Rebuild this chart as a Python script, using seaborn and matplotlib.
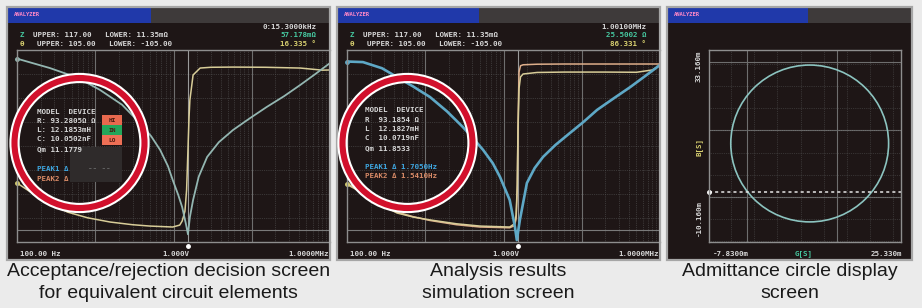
import numpy as np
import pandas as pd
import matplotlib
matplotlib.use('Agg')
import matplotlib.pyplot as plt
import seaborn as sns
from matplotlib.patches import Rectangle, Circle, Ellipse
from matplotlib.ticker import FixedLocator, LogLocator, MultipleLocator

# ---- values read off the three analyzer screens ----
# screen 1: |Z| trace and phase trace, in screen % of the graph height, vs frequency [Hz]
freq_z1 = [100, 263, 600, 1150, 2200, 3720, 5200, 6760, 8500, 9770, 11500, 12900, 14400,
           15300, 16200, 17800, 21000, 26900, 38000, 57500, 95000, 155000, 260000, 417000, 650000, 1000000]
z1 = [95.5, 90.6, 85.5, 79.2, 71.5, 62.0, 55.0, 47.9, 39.5, 32.3, 24.5, 18.2, 9.5,
      4.0, 13.0, 21.9, 34.0, 44.3, 52.0, 58.3, 64.5, 70.3, 76.0, 81.8, 87.5, 93.2]
freq_p1 = [100, 170, 290, 440, 800, 1550, 3000, 5000, 9770, 12000, 12900, 14000, 14700,
           15300, 15800, 16200, 17800, 21900, 30000, 57500, 150000, 417000, 800000, 1000000]
p1 = [30.7, 24.5, 19.5, 15.6, 12.6, 10.4, 9.0, 8.3, 7.8, 8.8, 10.9, 16.0, 27.0,
      47.9, 65.0, 74.0, 87.0, 90.6, 91.0, 91.1, 91.0, 90.6, 89.5, 89.6]

# screen 2: measured |Z|, measured phase and simulated phase
freq_z2 = [100, 160, 280, 436, 700, 1150, 1900, 3020, 4200, 5500, 7300, 9020, 12000, 14000,
           14800, 16200, 19900, 25000, 32000, 46000, 70800, 105000, 157000, 260000, 417000, 650000, 1000000]
z2 = [94.0, 93.7, 90.5, 85.9, 81.0, 75.5, 68.0, 59.9, 53.5, 47.9, 41.0, 33.9, 21.9, 7.8,
      1.0, 11.5, 30.7, 38.5, 44.3, 50.5, 56.8, 62.5, 68.8, 75.0, 80.7, 86.5, 92.2]
freq_p2 = [100, 196, 300, 436, 700, 1150, 2500, 5000, 12000, 13800, 14500, 15000, 15300,
           15800, 16500, 17800, 26900, 60000, 200000, 500000, 800000, 1000000]
p2_meas = [30.0, 23.4, 18.5, 15.1, 13.0, 11.5, 9.5, 8.3, 7.8, 9.5, 14.0, 30.0, 56.8,
           80.0, 86.0, 87.5, 88.3, 88.5, 88.5, 88.4, 89.6, 92.2]
p2_sim = [30.5, 24.0, 19.0, 15.6, 13.2, 11.2, 9.0, 7.8, 7.4, 8.5, 12.0, 28.0, 60.0,
          88.5, 91.8, 92.3, 92.6, 92.7, 92.7, 92.7, 92.7, 92.7]

cursor_f = 15300  # marker frequency on screens 1 and 2

# screen 3: admittance circle (G, B in siemens)
g_lim = (-7.83e-3, 25.33e-3)
b_lim = (-10.16e-3, 33.16e-3)
circle_g, circle_b = 9.56e-3, 12.07e-3
circle_w, circle_h = 27.26e-3, 35.39e-3
b_marker = 1.14e-3
g_grid = [-1.26e-3, 14.31e-3]
b_grid = [-0.06e-3, 15.08e-3, 30.45e-3]

captions = [("Acceptance/rejection decision screen", "for equivalent circuit elements"),
            ("Analysis results", "simulation screen"),
            ("Admittance circle display", "screen")]

# ---- style ----
sns.set_theme(style='dark')
plt.rcParams['font.family'] = ['DejaVu Sans']

W, H = 922, 308
SCREEN = '#1e1616'
MONO = 'DejaVu Sans Mono'
CAP_FONT = ['Liberation Sans', 'DejaVu Sans']
TEAL1, TEAL2 = '#93b6b1', '#5ea8c6'
BEIGE, PINK = '#d8cd98', '#deae8a'
YELLOW, GREEN = '#d8d070', '#46c8a0'

fig = plt.figure(figsize=(W / 100, H / 100), dpi=100)
fig.patch.set_facecolor('#ebebeb')


def px_axes(x, y, w, h, z):
    return fig.add_axes([x / W, 1 - (y + h) / H, w / W, h / H], zorder=z)


bg = px_axes(0, 0, W, H, 0)
top = px_axes(0, 0, W, H, 5)
for a in (bg, top):
    a.set_xlim(0, W)
    a.set_ylim(H, 0)
    a.axis('off')

panels = [(7, 7, 323, 253, 144), (337, 7, 323, 253, 142), (667, 7, 245, 253, 141)]
for x, y, w, h, bw in panels:
    bg.add_patch(Rectangle((x, y), w, h, fc=SCREEN, ec='none'))
    bg.add_patch(Rectangle((x, y), bw, 16, fc='#2039aa', ec='none'))
    bg.add_patch(Rectangle((x + bw, y), w - bw, 16, fc='#3e3a3a', ec='none'))
    bg.text(x + 7, y + 8, 'ANALYZER', color='#ff88c8', fontsize=4, fontweight='bold',
            family=MONO, va='center')
    top.add_patch(Rectangle((x, y), w, h, fill=False, ec='#a6a6a6', lw=1.6))


def mono(x, y, s, color='#d6d6d6', ha='left', size=5.4, **kw):
    top.text(x, y, s, color=color, fontsize=size, family=MONO, fontweight='bold',
             ha=ha, va='center', **kw)


def freq_axes(x0):
    ax = px_axes(x0, 50, 313, 192, 2)
    ax.set_facecolor('none')
    ax.set_xscale('log')
    ax.xaxis.set_major_locator(FixedLocator([1e3, 1e4, 1e5]))
    ax.xaxis.set_minor_locator(LogLocator(base=10, subs=[2, 3, 4, 5, 6, 7, 8, 9]))
    ax.yaxis.set_major_locator(FixedLocator([12.5 * i for i in range(1, 8)]))
    ax.tick_params(which='both', length=0, labelbottom=False, labelleft=False)
    ax.grid(which='major', axis='x', color='#6e6e6e', lw=0.8, ls='-')
    ax.grid(which='minor', axis='x', color='#565656', lw=0.5, ls=':')
    ax.grid(which='major', axis='y', color='#565656', lw=0.5, ls=':')
    for s in ax.spines.values():
        s.set_color('#8e8e8e')
        s.set_linewidth(1)
    ax.spines['right'].set_visible(False)
    ax.axhline(6.25, color='#7a7a7a', lw=0.8)
    ax.axvline(cursor_f, color='#9a9a9a', lw=0.8)
    return ax


def finish(ax):
    ax.set_xlim(100, 1e6)
    ax.set_ylim(0, 100)
    ax.set_xlabel('')
    ax.set_ylabel('')
    ax.plot([cursor_f], [-0.02], marker='o', ms=2.5, color='white',
            transform=ax.get_xaxis_transform(), clip_on=False)


# ---- screen 1 ----
ax1 = freq_axes(17)
sns.lineplot(x=freq_p1, y=p1, ax=ax1, color=BEIGE, lw=1.1, estimator=None, sort=False)
sns.lineplot(x=freq_z1, y=z1, ax=ax1, color=TEAL1, lw=1.3, estimator=None, sort=False)
ax1.plot([freq_z1[0]], [z1[0]], 'o', ms=2.5, color=TEAL1, clip_on=False)
ax1.plot([freq_p1[0]], [p1[0]], 'o', ms=2.5, color=YELLOW, clip_on=False)
finish(ax1)

# ---- screen 2 ----
ax2 = freq_axes(347)
sns.lineplot(x=freq_p2, y=p2_sim, ax=ax2, color=PINK, lw=1.1, estimator=None, sort=False)
sns.lineplot(x=freq_p2, y=p2_meas, ax=ax2, color=BEIGE, lw=1.1, estimator=None, sort=False)
sns.lineplot(x=freq_z2, y=z2, ax=ax2, color=TEAL2, lw=1.9, estimator=None, sort=False)
ax2.plot([freq_z2[0]], [z2[0]], 'o', ms=2.5, color=TEAL2, clip_on=False)
ax2.plot([freq_p2[0]], [p2_meas[0]], 'o', ms=2.5, color=YELLOW, clip_on=False)
finish(ax2)

# ---- screen 3 ----
ax3 = px_axes(709, 50, 192, 192, 2)
ax3.set_facecolor('none')
ax3.xaxis.set_major_locator(FixedLocator(g_grid))
ax3.yaxis.set_major_locator(FixedLocator(b_grid))
ax3.xaxis.set_minor_locator(MultipleLocator(4e-3))
ax3.yaxis.set_minor_locator(MultipleLocator(5e-3))
ax3.tick_params(which='both', length=0, labelbottom=False, labelleft=False)
ax3.grid(which='major', color='#6e6e6e', lw=0.8, ls='-')
ax3.grid(which='minor', color='#505050', lw=0.5, ls=':')
for s in ax3.spines.values():
    s.set_color('#8e8e8e')
    s.set_linewidth(1)
ax3.add_patch(Ellipse((circle_g, circle_b), circle_w, circle_h, fill=False, ec='#8cc4c0', lw=1.2))
ax3.axhline(b_marker, color='#e6e6e6', lw=1.1, ls=(0, (2, 2)))
ax3.plot([g_lim[0]], [b_marker], 'o', ms=2.5, color='white', clip_on=False)
ax3.set_xlim(*g_lim)
ax3.set_ylim(*b_lim)

# ---- screen texts ----
for ox, right in ((0, ('0:15.3000kHz', '57.178mΩ', '16.335 °')),
                  (330, ('1.00100MHz', '25.5002 Ω', '86.331 °'))):
    mono(ox + 20, 35, 'Z', color=GREEN)
    mono(ox + 20, 44, 'θ', color=YELLOW)
    mono(ox + 33, 35, 'UPPER: 117.00   LOWER: 11.35mΩ')
    mono(ox + 37, 44, 'UPPER: 105.00   LOWER: -105.00')
    mono(ox + 316, 27, right[0], ha='right')
    mono(ox + 316, 35, right[1], color=GREEN, ha='right')
    mono(ox + 316, 44, right[2], color=YELLOW, ha='right')
    mono(ox + 20, 254, '100.00 Hz')
    mono(ox + 176, 254, '1.000V', ha='center')
    mono(ox + 329, 254, '1.0000MHz', ha='right')

# decision box on screen 1
top.add_patch(Rectangle((70, 147), 52, 35, fc='#2f2b2b', ec='none'))
lines1 = ['MODEL  DEVICE', 'R: 93.2805Ω Ω', 'L: 12.1853mH', 'C: 10.0502nF', 'Qm 11.1779']
for yy, s in zip([112, 121, 130, 139, 149], lines1):
    mono(37, yy, s)
mono(37, 169, 'PEAK1 Δ', color='#3ea6e0')
mono(37, 179, 'PEAK2 Δ', color='#d88a66')
mono(88, 169, '-- --', color='#6a6a6a')
for yy, fc, s in ((115, '#e8694e', 'HI'), (125, '#22a65a', 'IN'), (135, '#ee6f55', 'LO')):
    top.add_patch(Rectangle((102, yy), 20, 10, fc=fc, ec='none'))
    mono(112, yy + 5, s, color='#4a1a10', ha='center', size=4.5)

# result box on screen 2
lines2 = ['MODEL  DEVICE', 'R  93.1854 Ω', 'L  12.1827mH', 'C  10.0719nF', 'Qm 11.8533']
for yy, s in zip([110, 120, 129, 138, 148], lines2):
    mono(365, yy, s)
mono(365, 167, 'PEAK1 Δ 1.7050Hz', color='#3ea6e0')
mono(365, 176, 'PEAK2 Δ 1.5410Hz', color='#d88a66')

# screen 3 axis texts
mono(699, 66, '33.160m', rotation=90, ha='center')
mono(699, 147, 'B[S]', color=YELLOW, rotation=90, ha='center')
mono(699, 218, '-10.160m', rotation=90, ha='center')
mono(713, 254, '-7.8300m')
mono(804, 254, 'G[S]', color=GREEN, ha='center')
mono(902, 254, '25.330m', ha='right')

# red highlight rings
for cx in (79.5, 407.5):
    top.add_patch(Circle((cx, 143), 65, fill=False, ec='white', lw=7.4, clip_on=False))
    top.add_patch(Circle((cx, 143), 65, fill=False, ec='#d2102c', lw=4.4, clip_on=False))

# captions
for (x, y, w, h, bw), (l1, l2) in zip(panels, captions):
    cx = x + w / 2
    top.text(cx, 272, l1, ha='center', va='center', fontsize=14, family=CAP_FONT, color='#1a1a1a')
    top.text(cx, 293, l2, ha='center', va='center', fontsize=14, family=CAP_FONT, color='#1a1a1a')

fig.savefig('out.png', dpi=100, facecolor=fig.get_facecolor())
